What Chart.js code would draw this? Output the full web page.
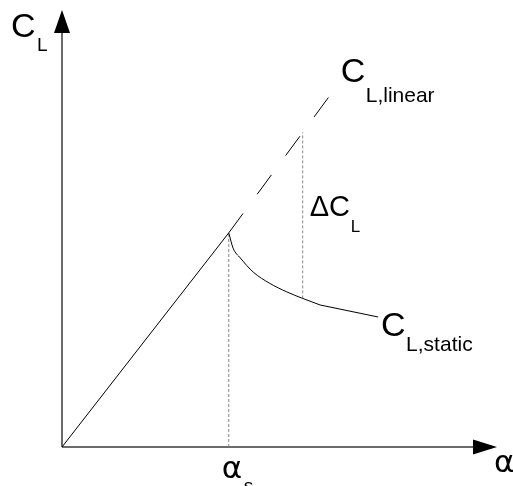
<!DOCTYPE html>
<html>
<head>
<meta charset="utf-8">
<title>Lift curve: linear vs static</title>
<script src="https://cdn.jsdelivr.net/npm/chart.js@4.4.1/dist/chart.umd.min.js"></script>
<style>
    html, body { margin: 0; padding: 0; background: #fff; }
    #wrap { width: 513px; height: 486px; }
</style>
</head>
<body>
<div id="wrap"><canvas id="liftChart" width="513" height="486"></canvas></div>
<script>
// Schematic lift curve data (alpha in deg, C_L dimensionless)
const alphaLinear = [0, 11.5];
const clLinear = [0, 0.98];

const alphaExtension = [11.5, 18.6];
const clExtension = [0.98, 1.62];

const alphaStatic = [11.5, 11.8, 12.3, 13.2, 14.3, 15.5, 16.6, 17.8];
const clStatic = [0.98, 0.91, 0.865, 0.80, 0.75, 0.71, 0.68, 0.65];

const alphaPost = [17.8, 21.8];
const clPost = [0.65, 0.595];

const alphaStall = 11.5;
const alphaDelta = 16.6;
const clDeltaLinear = 1.44;
const clDeltaStatic = 0.68;

const axisRange = { xMax: 30, yMax: 2 };

const font = '"Liberation Sans", Arial, sans-serif';
const greekFont = '"DejaVu Sans", sans-serif';

function toPoints(xs, ys) {
    return xs.map((x, i) => ({ x: x, y: ys[i] }));
}

// Axes with arrow heads and the labels
const schematicPlugin = {
    id: 'schematic',
    beforeDatasetsDraw(chart) {
        const ctx = chart.ctx;
        const sx = chart.scales.x;
        const sy = chart.scales.y;
        const x0 = sx.getPixelForValue(0);
        const y0 = sy.getPixelForValue(0);
        const top = sy.getPixelForValue(axisRange.yMax);
        const right = sx.getPixelForValue(axisRange.xMax);

        ctx.save();
        ctx.strokeStyle = '#6b6b6b';
        ctx.lineWidth = 2;
        ctx.beginPath();
        ctx.moveTo(x0, y0);
        ctx.lineTo(x0, top + 20);
        ctx.moveTo(x0, y0);
        ctx.lineTo(right - 20, y0);
        ctx.stroke();

        ctx.fillStyle = '#000';
        ctx.beginPath();
        ctx.moveTo(x0, top);
        ctx.lineTo(x0 - 8, top + 23);
        ctx.lineTo(x0 + 8, top + 23);
        ctx.closePath();
        ctx.fill();
        ctx.beginPath();
        ctx.moveTo(right, y0);
        ctx.lineTo(right - 24, y0 - 7.5);
        ctx.lineTo(right - 24, y0 + 7.5);
        ctx.closePath();
        ctx.fill();
        ctx.restore();
    },
    afterDatasetsDraw(chart) {
        const ctx = chart.ctx;
        const sx = chart.scales.x;
        const sy = chart.scales.y;

        function put(text, xv, yv, dx, dy, size, family) {
            ctx.font = size + 'px ' + (family || font);
            ctx.fillText(text, sx.getPixelForValue(xv) + dx, sy.getPixelForValue(yv) + dy);
        }

        ctx.save();
        ctx.fillStyle = '#000';
        ctx.textBaseline = 'alphabetic';
        ctx.textAlign = 'left';

        // C_L (y axis)
        put('C', 0, axisRange.yMax, -51, 27, 34);
        put('L', 0, axisRange.yMax, -25, 41, 19);

        // C_L,linear
        const ex = alphaExtension[1], ey = clExtension[1];
        put('C', ex, ey, 9, -11, 34);
        put('L,linear', ex, ey, 34, 9, 21);

        // Delta C_L
        const mid = (clDeltaLinear + clDeltaStatic) / 2;
        put('\u0394C', alphaDelta, mid, 7, 1, 29);
        put('L', alphaDelta, mid, 48, 17, 17);

        // C_L,static
        const px = alphaPost[1], py = clPost[1];
        put('C', px, py, 3, 19, 34);
        put('L,static', px, py, 28, 34, 21);

        // alpha axis
        put('\u03b1', axisRange.xMax, 0, -3, 25, 31, greekFont);

        // alpha_s
        put('\u03b1', alphaStall, 0, -7, 31, 31, greekFont);
        put('s', alphaStall, 0, 15, 45, 19);
        ctx.restore();
    }
};

new Chart(document.getElementById('liftChart'), {
    type: 'scatter',
    data: {
        datasets: [{
            label: 'C_L linear',
            data: toPoints(alphaLinear, clLinear),
            showLine: true,
            borderColor: '#000',
            borderWidth: 1,
            pointRadius: 0
        }, {
            label: 'C_L linear (extended)',
            data: toPoints(alphaExtension, clExtension),
            showLine: true,
            borderColor: '#000',
            borderWidth: 1,
            borderDash: [24, 24],
            pointRadius: 0
        }, {
            label: 'C_L static',
            data: toPoints(alphaStatic, clStatic),
            showLine: true,
            borderColor: '#000',
            borderWidth: 1,
            cubicInterpolationMode: 'monotone',
            pointRadius: 0
        }, {
            label: 'C_L static (post)',
            data: toPoints(alphaPost, clPost),
            showLine: true,
            borderColor: '#000',
            borderWidth: 1,
            pointRadius: 0
        }, {
            label: 'alpha_s',
            data: [{ x: alphaStall, y: 0 }, { x: alphaStall, y: clLinear[1] }],
            showLine: true,
            borderColor: '#888',
            borderWidth: 1,
            borderDash: [3, 2],
            pointRadius: 0
        }, {
            label: 'Delta C_L',
            data: [{ x: alphaDelta, y: clDeltaStatic }, { x: alphaDelta, y: clDeltaLinear }],
            showLine: true,
            borderColor: '#888',
            borderWidth: 1,
            borderDash: [3, 2],
            pointRadius: 0
        }]
    },
    options: {
        responsive: false,
        animation: false,
        layout: {
            padding: { left: 62, right: 16, top: 10, bottom: 39 }
        },
        scales: {
            x: { type: 'linear', min: 0, max: axisRange.xMax, display: false },
            y: { type: 'linear', min: 0, max: axisRange.yMax, display: false }
        },
        plugins: {
            legend: { display: false },
            tooltip: { enabled: false }
        }
    },
    plugins: [schematicPlugin]
});
</script>
</body>
</html>
